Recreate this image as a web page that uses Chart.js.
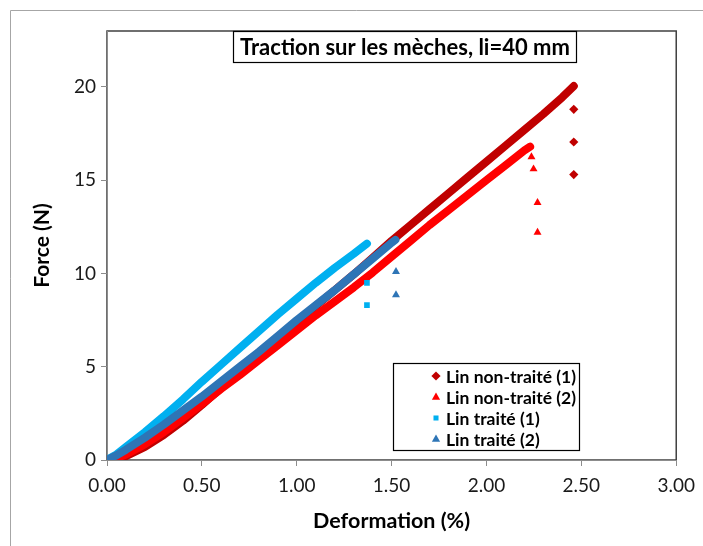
<!DOCTYPE html>
<html lang="fr">
<head>
<meta charset="UTF-8" />
<title>Traction sur les mèches</title>
<script src="https://cdn.jsdelivr.net/npm/chart.js@4.4.0/dist/chart.umd.min.js"></script>
<style>
  body { margin: 0; background: #fff; }
  #box { width: 703px; height: 546px; }
</style>
</head>
<body>
<div id="box"><canvas id="graphe"></canvas></div>
<script>
  // valeurs (Deformation %, Force N)
  const nt1X = [0, 0.05, 0.1, 0.2, 0.3, 0.4, 0.5, 0.6, 0.7, 0.8, 0.9, 1.0, 1.1, 1.2, 1.3, 1.4, 1.5, 1.6, 1.7, 1.8, 1.9, 2.0, 2.1, 2.2, 2.3, 2.4, 2.46];
  const nt1Y = [0, 0.05, 0.2, 0.7, 1.35, 2.1, 2.95, 3.85, 4.75, 5.6, 6.5, 7.4, 8.25, 9.1, 9.95, 10.85, 11.75, 12.6, 13.45, 14.3, 15.15, 16.0, 16.85, 17.7, 18.55, 19.45, 20.05];
  const nt1RuptX = [2.46, 2.46, 2.46];
  const nt1RuptY = [18.8, 17.05, 15.3];

  const nt2X = [0, 0.05, 0.1, 0.2, 0.3, 0.4, 0.5, 0.6, 0.7, 0.8, 0.9, 1.0, 1.1, 1.2, 1.3, 1.4, 1.5, 1.6, 1.7, 1.8, 1.9, 2.0, 2.1, 2.15, 2.2, 2.23];
  const nt2Y = [0, 0.1, 0.3, 0.85, 1.5, 2.25, 3.0, 3.8, 4.55, 5.35, 6.15, 6.95, 7.75, 8.5, 9.25, 10.05, 10.9, 11.75, 12.6, 13.4, 14.2, 15.0, 15.8, 16.2, 16.6, 16.8];
  const nt2RuptX = [2.237, 2.248, 2.269, 2.269];
  const nt2RuptY = [16.25, 15.6, 13.8, 12.2];

  const t1X = [0, 0.05, 0.1, 0.2, 0.3, 0.4, 0.5, 0.6, 0.7, 0.8, 0.9, 1.0, 1.1, 1.2, 1.3, 1.37];
  const t1Y = [0, 0.3, 0.7, 1.5, 2.35, 3.25, 4.2, 5.1, 6.0, 6.9, 7.8, 8.65, 9.5, 10.3, 11.05, 11.6];
  const t1RuptX = [1.37, 1.37];
  const t1RuptY = [9.5, 8.3];

  const t2X = [0, 0.05, 0.1, 0.2, 0.3, 0.4, 0.5, 0.6, 0.7, 0.8, 0.9, 1.0, 1.1, 1.2, 1.3, 1.4, 1.5, 1.52];
  const t2Y = [0, 0.25, 0.55, 1.2, 1.9, 2.65, 3.4, 4.2, 5.0, 5.8, 6.65, 7.5, 8.3, 9.1, 9.95, 10.8, 11.65, 11.8];
  const t2RuptX = [1.523, 1.523];
  const t2RuptY = [10.1, 8.85];

  const noms = ["Lin non-traité (1)", "Lin non-traité (2)", "Lin traité (1)", "Lin traité (2)"];
  const couleurs = ["#C00000", "#FF0000", "#00B0F0", "#2E75B6"];
  const symboles = ["rectRot", "triangle", "rect", "triangle"];
  const xTicks = [0, 0.5, 1, 1.5, 2, 2.5, 3];
  const yTicks = [0, 5, 10, 15, 20];

  function pts(xs, ys) {
    return xs.map((x, i) => ({ x: x, y: ys[i] }));
  }

  const courbes = [
    [nt1X, nt1Y, nt1RuptX, nt1RuptY],
    [nt2X, nt2Y, nt2RuptX, nt2RuptY],
    [t1X, t1Y, t1RuptX, t1RuptY],
    [t2X, t2Y, t2RuptX, t2RuptY],
  ];

  // Excel dessine la serie 4 par-dessus : on inverse l'ordre pour Chart.js
  const jeux = [];
  for (let i = courbes.length - 1; i >= 0; i--) {
    const c = courbes[i];
    jeux.push({
      label: noms[i],
      data: pts(c[0], c[1]),
      showLine: true,
      borderColor: couleurs[i],
      backgroundColor: couleurs[i],
      borderWidth: 8,
      borderCapStyle: "round",
      borderJoinStyle: "round",
      pointRadius: 0,
      pointStyle: symboles[i],
    });
    jeux.push({
      label: noms[i] + " rupture",
      data: pts(c[2], c[3]),
      showLine: false,
      borderColor: couleurs[i],
      backgroundColor: couleurs[i],
      pointStyle: symboles[i],
      pointRadius: symboles[i] == "rect" ? 4 : 4.6,
      borderWidth: 0,
    });
  }

  function symbole(ctx, style, x, y, r) {
    ctx.beginPath();
    if (style == "rectRot") {
      ctx.moveTo(x, y - r); ctx.lineTo(x + r, y); ctx.lineTo(x, y + r); ctx.lineTo(x - r, y);
    } else if (style == "triangle") {
      ctx.moveTo(x, y - r); ctx.lineTo(x + r * 0.9, y + r * 0.6); ctx.lineTo(x - r * 0.9, y + r * 0.6);
    } else {
      ctx.rect(x - r * 0.7, y - r * 0.7, r * 1.4, r * 1.4);
    }
    ctx.closePath();
    ctx.fill();
  }

  const cadre = {
    id: "cadre",
    beforeDraw(chart) {
      const ctx = chart.ctx;
      const a = chart.chartArea;
      ctx.save();
      ctx.fillStyle = "#fff";
      ctx.fillRect(0, 0, chart.width, chart.height);
      ctx.strokeStyle = "#a6a6a6";
      ctx.lineWidth = 1;
      ctx.beginPath();
      ctx.moveTo(10.5, chart.height);
      ctx.lineTo(10.5, 10.5);
      ctx.lineTo(chart.width, 10.5);
      ctx.stroke();
      ctx.strokeStyle = "#404040";
      ctx.lineWidth = 1.5;
      ctx.strokeRect(a.left, a.top, a.right - a.left, a.bottom - a.top);
      ctx.restore();
    },
    afterDatasetsDraw(chart) {
      const ctx = chart.ctx;
      ctx.save();
      // titre dans une boite
      ctx.fillStyle = "#fff";
      ctx.fillRect(233, 31, 344, 32);
      ctx.strokeStyle = "#000";
      ctx.lineWidth = 1.2;
      ctx.strokeRect(233.5, 31.5, 343, 31);
      ctx.fillStyle = "#000";
      ctx.font = "bold 22px Lato";
      ctx.textAlign = "center";
      ctx.textBaseline = "middle";
      ctx.fillText("Traction sur les mèches, li=40 mm", 405, 48);

      // legende
      ctx.fillStyle = "#fff";
      ctx.fillRect(393, 363, 187, 88);
      ctx.strokeStyle = "#000";
      ctx.lineWidth = 1.2;
      ctx.strokeRect(393.5, 363.5, 186, 87);
      ctx.font = "bold 17.5px Lato";
      ctx.textAlign = "left";
      for (let i = 0; i < noms.length; i++) {
        const y = 376 + i * 21;
        ctx.fillStyle = couleurs[i];
        symbole(ctx, symboles[i], 436, y, symboles[i] == "rect" ? 3.6 : 4.6);
        ctx.fillStyle = "#000";
        ctx.fillText(noms[i], 446, y + 1);
      }
      ctx.restore();
    },
  };

  new Chart("graphe", {
    type: "scatter",
    data: { datasets: jeux },
    options: {
      responsive: true,
      maintainAspectRatio: false,
      animation: false,
      layout: { padding: { left: 28, right: 25, top: 31, bottom: 10 } },
      plugins: {
        legend: { display: false },
        tooltip: { enabled: false },
      },
      scales: {
        x: {
          type: "linear",
          min: 0,
          max: 3,
          afterFit: (s) => { s.height = 76; },
          afterBuildTicks: (s) => { s.ticks = xTicks.map((v) => ({ value: v })); },
          ticks: {
            color: "#1a1a1a",
            font: { family: "Lato", size: 19 },
            padding: 8,
            maxRotation: 0,
            callback: (v) => v.toFixed(2),
          },
          grid: { drawOnChartArea: false, tickLength: 6, color: "#8c8c8c" },
          border: { color: "#8c8c8c", width: 1 },
          title: {
            display: true,
            text: "Deformation (%)",
            color: "#000",
            font: { family: "Lato", size: 21.5, weight: "bold" },
            padding: { top: 4, bottom: 2 },
          },
        },
        y: {
          type: "linear",
          min: 0,
          max: 23,
          afterFit: (s) => { s.width = 79; },
          afterBuildTicks: (s) => { s.ticks = yTicks.map((v) => ({ value: v })); },
          ticks: {
            color: "#1a1a1a",
            font: { family: "Lato", size: 19 },
            padding: 5,
          },
          grid: { drawOnChartArea: false, tickLength: 6, color: "#8c8c8c" },
          border: { color: "#8c8c8c", width: 1 },
          title: {
            display: true,
            text: "Force (N)",
            color: "#000",
            font: { family: "Lato", size: 21, weight: "bold" },
            padding: { top: 2, bottom: 4 },
          },
        },
      },
    },
    plugins: [cadre],
  });
</script>
</body>
</html>
